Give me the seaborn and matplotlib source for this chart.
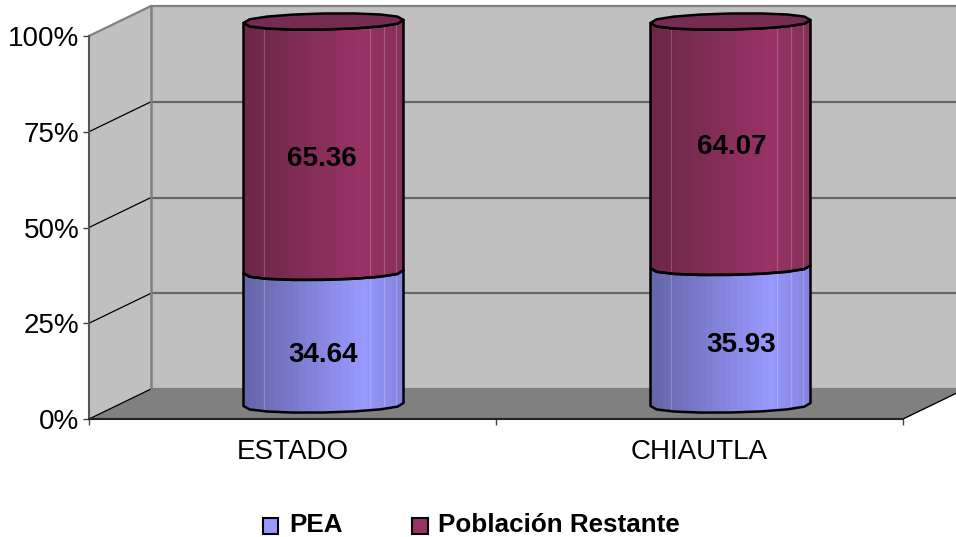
import numpy as np
import matplotlib
matplotlib.use("Agg")
import matplotlib.pyplot as plt
import seaborn as sns
from matplotlib.colors import LinearSegmentedColormap
from matplotlib.patches import Patch, Polygon

categories = ["ESTADO", "CHIAUTLA"]
pea = [34.64, 35.93]
restante = [65.36, 64.07]
y_ticks = [0, 25, 50, 75, 100]
y_labels = ["0%", "25%", "50%", "75%", "100%"]
series_names = ["PEA", "Población Restante"]

BLUE = "#9999ff"
MAROON = "#993366"
WALL = "#c0c0c0"
FLOOR = "#808080"
W, H = 956, 537
LEFT, RIGHT, TOP, BOTTOM = 89, 903, 36, 419

sns.set_style("white")
plt.rcParams["font.family"] = ["Liberation Sans", "DejaVu Sans"]

fig = plt.figure(figsize=(W / 100, H / 100), dpi=100)
ax = fig.add_axes([LEFT / W, (H - BOTTOM) / H, (RIGHT - LEFT) / W, (BOTTOM - TOP) / H])

# stacked bars, the cylinders are built from their geometry afterwards
bar_width = 160 / 407
sns.barplot(x=categories, y=pea, color=BLUE, width=bar_width, ax=ax)
sns.barplot(x=categories, y=restante, bottom=pea, color=MAROON, width=bar_width, ax=ax)
ax.set_xlim(-0.5, 1.5)
ax.set_ylim(0, 100)

# size of one pixel in data units, and depth of the fake 3D box
px_x = 2 / (RIGHT - LEFT)
px_y = 100 / (BOTTOM - TOP)
depth_x = 62 * px_x
depth_y = 30 * px_y
x0, x1 = -0.5, 1.5

wall_kw = dict(clip_on=False, zorder=0, linewidth=0)
ax.add_patch(Polygon([(x0, 0), (x0 + depth_x, depth_y), (x0 + depth_x, 100 + depth_y), (x0, 100)],
                     facecolor=WALL, **wall_kw))
ax.add_patch(Polygon([(x0 + depth_x, depth_y), (x1 + depth_x, depth_y),
                      (x1 + depth_x, 100 + depth_y), (x0 + depth_x, 100 + depth_y)],
                     facecolor=WALL, **wall_kw))
ax.add_patch(Polygon([(x0, 0), (x1, 0), (x1 + depth_x, depth_y), (x0 + depth_x, depth_y)],
                     facecolor=FLOOR, **wall_kw))

# grid on the back wall and on the side wall
for t in y_ticks:
    color = "#808080" if t in (0, 100) else "#666666"
    ax.plot([x0 + depth_x, x1 + depth_x], [t + depth_y] * 2, color=color, lw=1.6,
            clip_on=False, zorder=1)
    ax.plot([x0, x0 + depth_x], [t, t + depth_y], color="#808080" if t == 100 else "black",
            lw=1.6 if t == 100 else 0.9, clip_on=False, zorder=1)
ax.plot([x0 + depth_x] * 2, [depth_y, 100 + depth_y], color="#808080", lw=1.8, clip_on=False, zorder=1)
ax.plot([x1, x1 + depth_x], [0, depth_y], color="black", lw=1, clip_on=False, zorder=1)


def arc(cx, cy, half_w, start, stop, n=9):
    # low-poly ellipse, flattened and slightly tilted like the original 3D render
    ang = np.linspace(start, stop, n)
    s = np.sin(ang)
    xs = cx + half_w * np.cos(ang)
    ys = cy + 8 * px_y * np.sign(s) * np.abs(s) ** 0.85 + 1.5 * px_y * np.cos(ang)
    return np.column_stack([xs, ys])


cyl_dx = 31 * px_x
cyl_dy = 14.5 * px_y
line_fracs = [0.125, 0.79, 0.875, 0.956]
ramps = {
    BLUE: ["#6666aa", BLUE, "#8585e0"],
    MAROON: ["#6b2748", MAROON, "#85305a"],
}

n_series = len(series_names)
for s, base_color in enumerate([BLUE, MAROON]):
    cmap = LinearSegmentedColormap.from_list(
        "cyl", [(0, ramps[base_color][0]), (0.75, ramps[base_color][1]), (1, ramps[base_color][2])])
    strip = np.linspace(0, 1, 26).reshape(1, -1)
    for bar in ax.containers[s]:
        bar.set_visible(False)
        half_w = bar.get_width() / 2
        cx = bar.get_x() + half_w + cyl_dx
        y_low = bar.get_y() + cyl_dy
        y_high = y_low + bar.get_height()
        outline = np.vstack([arc(cx, y_low, half_w, np.pi, 2 * np.pi),
                             arc(cx, y_high, half_w, 2 * np.pi, np.pi)])
        im = ax.imshow(strip, extent=(cx - half_w, cx + half_w, y_low - 5, y_high + 5), cmap=cmap,
                       aspect="auto", interpolation="nearest", zorder=3, vmin=0, vmax=1)
        body = Polygon(outline, transform=ax.transData, facecolor="none", edgecolor="black",
                       linewidth=1.8, clip_on=False, zorder=4, joinstyle="round")
        ax.add_patch(body)
        im.set_clip_path(body)
        im.set_clip_box(fig.bbox)
        for frac in line_fracs:
            lx = cx - half_w + frac * 2 * half_w
            ln = ax.plot([lx, lx], [y_low - 5, y_high + 5], color="white", alpha=0.2, lw=0.8,
                         zorder=3.5)[0]
            ln.set_clip_path(body)
            ln.set_clip_box(fig.bbox)
        if s == n_series - 1:
            cap = np.vstack([arc(cx, y_high, half_w, 0, np.pi), arc(cx, y_high, half_w, np.pi, 2 * np.pi)])
            ax.add_patch(Polygon(cap, facecolor="#752b52", edgecolor="black", linewidth=1.8,
                                 clip_on=False, zorder=5, joinstyle="round"))

ax.set_xlim(x0, x1)
ax.set_ylim(0, 100)

# hand placed value labels, same as in the original chart (pixel offsets from the bar centre)
offsets = [[(0, -17), (11, -9)], [(-2, -12), (1, -3)]]
for s, values in enumerate([pea, restante]):
    for i, v in enumerate(values):
        bar = ax.containers[s][i]
        cx = bar.get_x() + bar.get_width() / 2 + cyl_dx
        cy = bar.get_y() + bar.get_height() / 2 + cyl_dy
        ax.annotate(f"{v:.2f}", (cx, cy), xytext=offsets[s][i], textcoords="offset pixels",
                    ha="center", va="center", fontsize=20, fontweight="bold", color="black",
                    zorder=6, annotation_clip=False)

sns.despine(ax=ax, top=True, right=True)
ax.spines["left"].set_color("#555555")
ax.spines["left"].set_linewidth(1.5)
ax.spines["bottom"].set_color("#222222")
ax.spines["bottom"].set_linewidth(1.5)
ax.spines["left"].set_zorder(2)
ax.spines["bottom"].set_zorder(2)
ax.patch.set_visible(False)

ax.set_yticks(y_ticks, y_labels)
ax.set_xticks([0, 1], categories)
ax.set_xticks([-0.5, 0.5, 1.5], minor=True)
ax.tick_params(axis="y", left=True, length=4, width=1, color="#444444", labelsize=20, pad=3, labelcolor="black")
ax.tick_params(axis="x", which="major", bottom=False, labelsize=20, pad=11, labelcolor="black")
ax.tick_params(axis="x", which="minor", bottom=True, length=4.5, width=1, color="#444444")

handles = [Patch(facecolor=BLUE, edgecolor="black", linewidth=1.5),
           Patch(facecolor=MAROON, edgecolor="black", linewidth=1.5)]
leg = fig.legend(handles, series_names, loc="center", bbox_to_anchor=(471.5 / W, 1 - 525 / H), ncols=2,
                 frameon=False, borderpad=0, handlelength=0.58, handleheight=0.58, handletextpad=0.4,
                 columnspacing=2.7, labelcolor="black", prop={"size": 18.7, "weight": "bold"})
for h in leg.get_patches():
    h.set_y(h.get_y() - 2)

fig.savefig("out.png", dpi=100)
